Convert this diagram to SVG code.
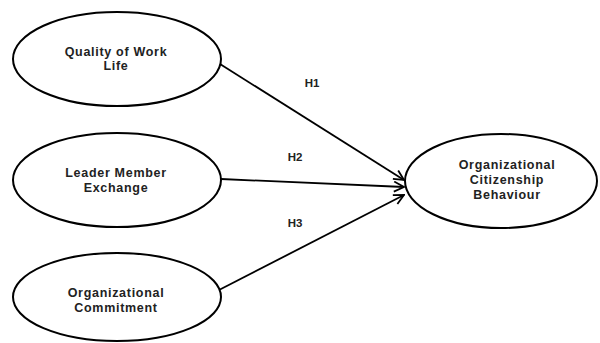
<svg xmlns="http://www.w3.org/2000/svg" width="600" height="343" viewBox="0 0 600 343">
<style>
.n ellipse{fill:#fff;stroke:#000;stroke-width:2}
.n text{font-family:"Liberation Sans",Arial,sans-serif;font-weight:bold;font-size:12.5px;fill:#222;text-anchor:middle;letter-spacing:0.7px}
.c line{stroke:#000;stroke-width:1.8}
.lbl{font-family:"Liberation Sans",Arial,sans-serif;font-weight:bold;font-size:11.5px;fill:#222;text-anchor:middle}
</style>
<defs>
<marker id="ah" viewBox="0 0 12 12" refX="11" refY="6" markerWidth="12" markerHeight="12" markerUnits="userSpaceOnUse" orient="auto">
<path d="M1,1 L11,6 L1,11" fill="none" stroke="#000" stroke-width="1.8"/>
</marker>
</defs>
<rect width="600" height="343" fill="#fff"/>
<g id="connectors" class="c">
<line x1="220" y1="64" x2="404" y2="180" marker-end="url(#ah)"/>
<line x1="221" y1="179" x2="404" y2="187" marker-end="url(#ah)"/>
<line x1="219" y1="290" x2="404" y2="195" marker-end="url(#ah)"/>
</g>
<text class="lbl" x="312" y="87">H1</text>
<text class="lbl" x="295" y="161">H2</text>
<text class="lbl" x="295" y="227">H3</text>
<g id="qwl" class="n">
<ellipse cx="117" cy="59" rx="104" ry="47"/>
<text x="116" y="56">Quality of Work</text>
<text x="116" y="70">Life</text>
</g>
<g id="lmx" class="n">
<ellipse cx="117" cy="180" rx="104" ry="47"/>
<text x="116" y="177">Leader Member</text>
<text x="116" y="192">Exchange</text>
</g>
<g id="oc" class="n">
<ellipse cx="117" cy="297" rx="104" ry="44"/>
<text x="116" y="297">Organizational</text>
<text x="116" y="312">Commitment</text>
</g>
<g id="ocb" class="n">
<ellipse cx="501" cy="181" rx="96" ry="47"/>
<text x="507" y="169">Organizational</text>
<text x="507" y="184">Citizenship</text>
<text x="507" y="199">Behaviour</text>
</g>
</svg>
